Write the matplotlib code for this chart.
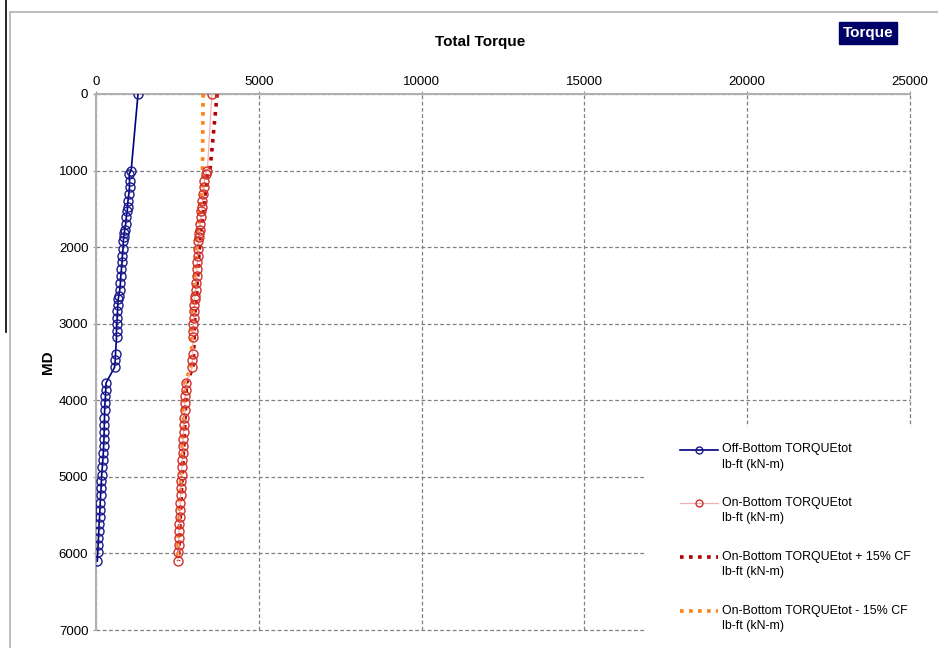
import numpy as np
import matplotlib.pyplot as plt
from matplotlib.patches import Rectangle
from matplotlib.lines import Line2D
from matplotlib.legend_handler import HandlerLine2D

plt.rcParams['font.family'] = ['Liberation Sans', 'DejaVu Sans']

# Profundidad medida (MD) de cada punto
md = [0, 1000, 1040, 1130, 1210, 1300, 1400, 1470, 1530, 1610, 1700, 1780, 1820,
      1870, 1920, 2020, 2110, 2200, 2290, 2380, 2470, 2560, 2640, 2680, 2760,
      2840, 2920, 3000, 3090, 3180, 3390, 3480, 3570, 3770, 3860, 3950, 4040,
      4130, 4230, 4320, 4410, 4500, 4600, 4690, 4780, 4870, 4970, 5060, 5150,
      5240, 5340, 5430, 5520, 5610, 5710, 5800, 5890, 5980, 6100]

# Torque fuera de fondo
off_bottom = [1290, 1080, 1020, 1030, 1030, 1010, 980, 970, 960, 930, 910, 880, 870,
              850, 840, 830, 810, 800, 780, 760, 750, 730, 700, 680, 670,
              660, 650, 640, 630, 630, 600, 590, 570, 310, 300, 290, 275,
              265, 260, 255, 250, 245, 235, 225, 210, 195, 175, 165, 155,
              140, 130, 120, 110, 95, 85, 75, 65, 55, 40]

# Torque en fondo
on_bottom = [3560, 3420, 3370, 3330, 3320, 3300, 3270, 3260, 3240, 3220, 3200, 3180, 3170,
             3150, 3140, 3130, 3120, 3110, 3100, 3090, 3070, 3060, 3040, 3030, 3020,
             3010, 3000, 2990, 2980, 2980, 2970, 2960, 2950, 2760, 2750, 2740, 2730,
             2720, 2710, 2700, 2690, 2680, 2670, 2660, 2650, 2640, 2630, 2620, 2610,
             2600, 2590, 2580, 2570, 2560, 2550, 2540, 2535, 2530, 2520]

# En fondo + 15% CF
on_plus = [3720, 3500, 3430, 3390, 3380, 3355, 3325, 3310, 3290, 3270, 3250, 3225, 3215,
           3195, 3185, 3175, 3160, 3150, 3140, 3125, 3105, 3095, 3075, 3065, 3055,
           3045, 3035, 3025, 3015, 3015, 3000, 2990, 2980, 2785, 2775, 2765, 2755,
           2745, 2735, 2725, 2715, 2705, 2695, 2685, 2675, 2665, 2650, 2640, 2630,
           2620, 2610, 2600, 2590, 2580, 2570, 2560, 2550, 2545, 2535]

# En fondo - 15% CF
on_minus = [3290, 3270, 3300, 3270, 3260, 3240, 3210, 3200, 3185, 3165, 3145, 3130, 3120,
            3100, 3090, 3080, 3070, 3060, 3050, 3040, 3030, 3020, 3000, 2990, 2980,
            2970, 2965, 2955, 2945, 2945, 2935, 2925, 2915, 2730, 2720, 2710, 2700,
            2690, 2685, 2675, 2665, 2655, 2645, 2640, 2630, 2620, 2610, 2600, 2590,
            2580, 2570, 2560, 2550, 2545, 2535, 2525, 2520, 2515, 2505]

etiquetas = ["Off-Bottom TORQUEtot\nlb-ft (kN-m)",
             "On-Bottom TORQUEtot\nlb-ft (kN-m)",
             "On-Bottom TORQUEtot + 15% CF\nlb-ft (kN-m)",
             "On-Bottom TORQUEtot - 15% CF\nlb-ft (kN-m)"]


# Manejador que sube la linea de la leyenda a la primera linea del texto
class HandlerArriba(HandlerLine2D):
    def create_artists(self, legend, orig_handle, xdescent, ydescent,
                       width, height, fontsize, trans):
        arts = super().create_artists(legend, orig_handle, xdescent, ydescent,
                                      width, height, fontsize, trans)
        for a in arts:
            a.set_ydata(np.asarray(a.get_ydata()) + 5.5)
        return arts


fig = plt.figure(figsize=(9.38, 6.48), dpi=100)
ax = fig.add_axes([96 / 938, 1 - 630 / 648, 814 / 938, 536 / 648])

# Marco exterior
fig.add_artist(Rectangle((10 / 938, -0.1), 1.0, 1 - 12 / 648 + 0.1,
                         transform=fig.transFigure, fill=False,
                         edgecolor='#b0b0b0', linewidth=1.2))
fig.add_artist(Line2D([6 / 938, 6 / 938], [1 - 332 / 648, 1.0],
                      transform=fig.transFigure, color='black', linewidth=1.2))

ax.plot(on_plus, md, color='#b00000', linestyle=(0, (1, 1.5)), linewidth=2.6, zorder=3)
ax.plot(on_minus, md, color='#ff7f0e', linestyle=(0, (1, 1.5)), linewidth=2.6, zorder=3)
ax.plot(on_bottom, md, color='#f2b0b0', linewidth=0.9, marker='o', markersize=6.5,
        markerfacecolor='none', markeredgecolor='#d0302a', markeredgewidth=1.0, zorder=4)
ax.plot(off_bottom, md, color='#000080', linewidth=1.2, marker='o', markersize=6.5,
        markerfacecolor='none', markeredgecolor='#1a1a8c', markeredgewidth=1.0, zorder=5)

ax.set_xlim(0, 25000)
ax.set_ylim(7000, 0)
ax.set_xticks([0, 5000, 10000, 15000, 20000, 25000])
ax.set_yticks([0, 1000, 2000, 3000, 4000, 5000, 6000, 7000])
ax.xaxis.tick_top()
ax.tick_params(axis='both', labelsize=9.5, length=2.5, color='#909090', pad=3)
ax.tick_params(axis='x', pad=2)
ax.grid(True, linestyle=(0, (3, 2)), color='#808080', linewidth=0.9)
for linea in ax.get_xgridlines() + ax.get_ygridlines():
    linea.set_clip_on(False)
for lado in ['right', 'bottom']:
    ax.spines[lado].set_visible(False)
for lado in ['left', 'top']:
    ax.spines[lado].set_color('#b0b0b0')
    ax.spines[lado].set_linewidth(1.5)

ax.set_ylabel("MD", fontsize=11, fontweight='bold', labelpad=3)
fig.text(480 / 938, 1 - 42 / 648, "Total Torque", ha='center', va='center',
         fontsize=11, fontweight='bold')
fig.text(868 / 938, 1 - 33 / 648, "Torque", ha='center', va='center',
         fontsize=11, fontweight='bold', color='white',
         bbox=dict(boxstyle='square,pad=0.25', facecolor='#000066', edgecolor='#000066'))

# Fondo blanco de la leyenda, tapa la cuadricula
fig.add_artist(Rectangle((646 / 938, 0), 1.0, 1 - 427 / 648,
                         transform=fig.transFigure, facecolor='white',
                         edgecolor='none', zorder=2))

manejadores = [
    Line2D([], [], color='#000080', linewidth=1.2, marker='o', markersize=5,
           markerfacecolor='none', markeredgecolor='#1a1a8c'),
    Line2D([], [], color='#f2b0b0', linewidth=0.9, marker='o', markersize=5,
           markerfacecolor='none', markeredgecolor='#d0302a'),
    Line2D([], [], color='#b00000', linestyle=(0, (1, 1.5)), linewidth=2.6),
    Line2D([], [], color='#ff7f0e', linestyle=(0, (1, 1.5)), linewidth=2.6),
]
leg = fig.legend(manejadores, etiquetas, loc='upper left',
                 bbox_to_anchor=(678 / 938, 1 - 441 / 648), fontsize=8.9,
                 frameon=False, labelspacing=2.15, handlelength=3.0,
                 handletextpad=0.35, borderaxespad=0, borderpad=0.2,
                 handler_map={Line2D: HandlerArriba()})
leg.set_zorder(3)
for t in leg.get_texts():
    t.set_linespacing(1.35)

fig.savefig("out.png", dpi=100)
